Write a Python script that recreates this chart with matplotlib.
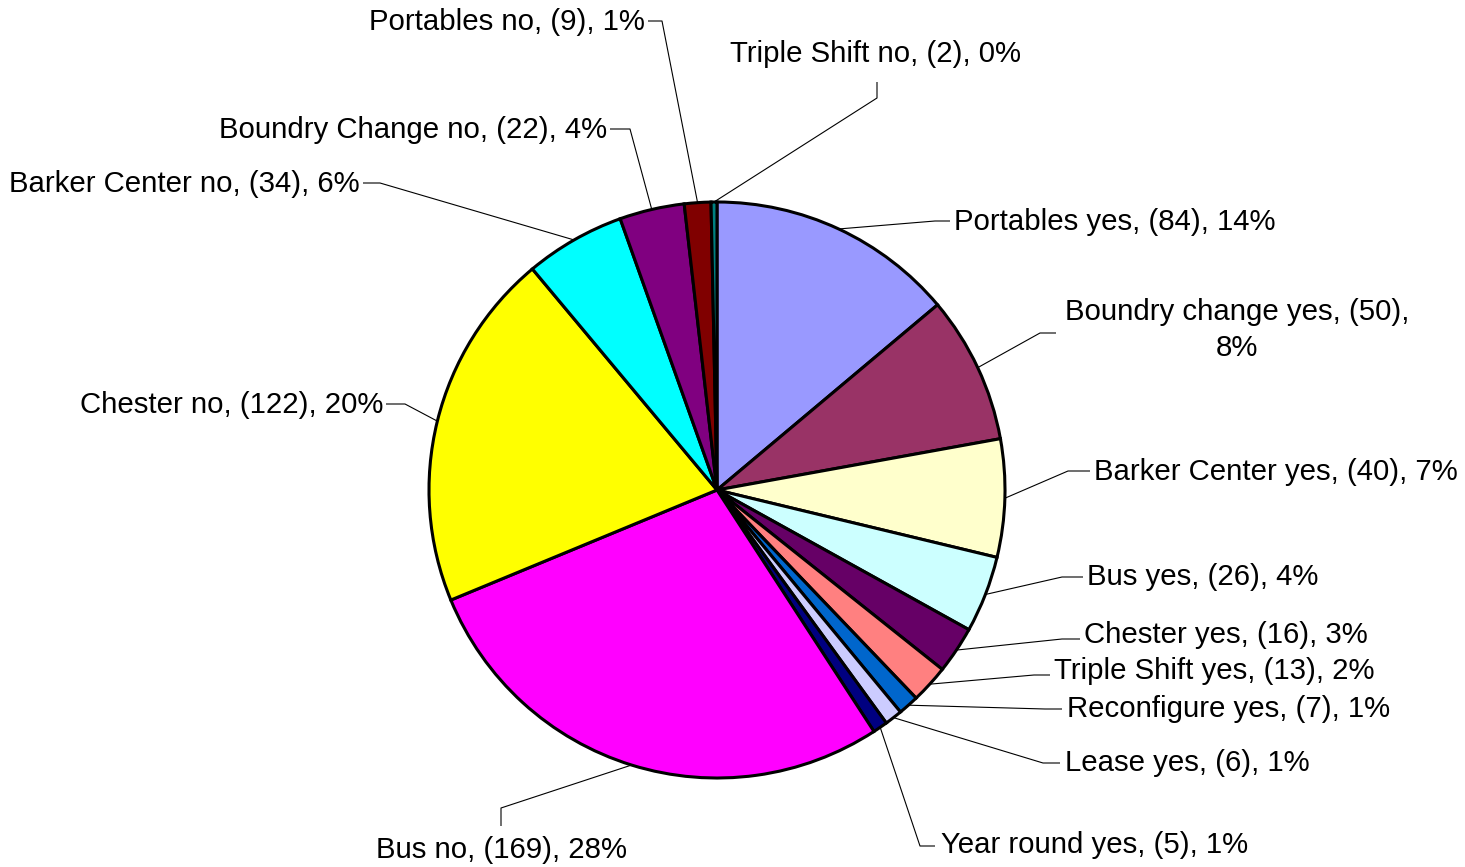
import numpy as np
import matplotlib
matplotlib.use("Agg")
import matplotlib.pyplot as plt

plt.rcParams['font.family'] = ['Liberation Sans', 'DejaVu Sans']

# slices, clockwise from 12 o'clock
names = ['Portables yes', 'Boundry change yes', 'Barker Center yes', 'Bus yes',
         'Chester yes', 'Triple Shift yes', 'Reconfigure yes', 'Lease yes',
         'Year round yes', 'Bus no', 'Chester no', 'Barker Center no',
         'Boundry Change no', 'Portables no', 'Triple Shift no']
counts = [84, 50, 40, 26, 16, 13, 7, 6, 5, 169, 122, 34, 22, 9, 2]
colors = ['#9999FF', '#993366', '#FFFFCC', '#CCFFFF', '#660066', '#FF8080',
          '#0066CC', '#CCCCFF', '#000080', '#FF00FF', '#FFFF00', '#00FFFF',
          '#800080', '#800000', '#008080']

W, H = 1465, 867
cx, cy, R = 717, 490, 288   # pie centre / radius in pixels (y down)

# label layout in pixel coords: text x, text y, ha, elbow, line end
layout = [
    (954, 222, 'left', (935, 221), (950, 221)),
    (1237, 330, 'center', (1040, 333), (1056, 333)),
    (1094, 472, 'left', (1068, 471), (1090, 471)),
    (1087, 577, 'left', (1062, 577), (1083, 577)),
    (1084, 635, 'left', (1062, 639), (1080, 639)),
    (1054, 671, 'left', (1034, 675), (1050, 675)),
    (1067, 709, 'left', (1045, 709), (1062, 709)),
    (1065, 763, 'left', (1043, 763), (1060, 763)),
    (941, 845, 'left', (920, 846), (935, 846)),
    (501, 850, 'center', (501, 808), (501, 826)),
    (383, 405, 'right', (405, 404), (386, 404)),
    (360, 184, 'right', (380, 183), (363, 183)),
    (607, 130, 'right', (630, 129), (610, 129)),
    (645, 22, 'right', (662, 21), (648, 21)),
    (876, 54, 'center', (877, 98), (877, 82)),
]

fig = plt.figure(figsize=(W / 100, H / 100), dpi=100)
ax = fig.add_axes([0, 0, 1, 1])
ax.axis('off')

ax.pie(counts, colors=colors, startangle=90, counterclock=False,
       center=(cx, H - cy), radius=R,
       wedgeprops=dict(edgecolor='black', linewidth=2.2))
ax.set_xlim(0, W)
ax.set_ylim(0, H)
ax.set_aspect('equal')

total = sum(counts)
cum = np.cumsum([0] + counts)
for i, (name, n) in enumerate(zip(names, counts)):
    pct = int(round(n / total * 100))
    label = f'{name}, ({n}), {pct}%'
    if i == 1:
        label = f'{name}, ({n}),\n{pct}%'
    tx, ty, ha, elbow, end = layout[i]
    theta = np.deg2rad((cum[i] + n / 2) / total * 360)
    px = cx + R * np.sin(theta)
    py = cy - R * np.cos(theta)
    xs = [px, elbow[0], end[0]]
    ys = [H - py, H - elbow[1], H - end[1]]
    ax.plot(xs, ys, color='black', lw=0.8, solid_capstyle='butt')
    ax.text(tx, H - ty, label, ha=ha, va='center', fontsize=21.2,
            multialignment='center', linespacing=1.4)

fig.savefig('out.png', dpi=100)
